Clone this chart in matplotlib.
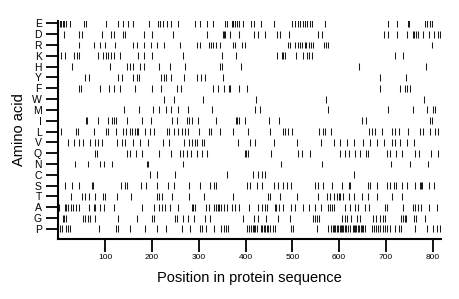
import matplotlib
matplotlib.use("Agg")
import matplotlib.pyplot as plt

# amino acids, top row first
amino_acids = ['E', 'D', 'R', 'K', 'H', 'Y', 'F', 'W', 'M', 'I',
               'L', 'V', 'Q', 'N', 'C', 'S', 'T', 'A', 'G', 'P']

seq_length = 817

# residue positions for each amino acid
pos_E = [3, 6, 9, 12, 16, 25, 55, 59, 102, 128, 139, 149, 159, 194, 213, 218, 224, 231, 240,
         256, 292, 303, 317, 331, 356, 361, 371, 374, 377, 382, 387, 394, 411, 418, 432, 461,
         500, 505, 511, 517, 522, 526, 531, 537, 542, 570, 705, 723, 748, 750, 784, 787, 795, 798]
pos_D = [11, 44, 51, 93, 113, 118, 137, 142, 182, 199, 244, 317, 352, 354, 357, 367, 387, 417,
         427, 442, 467, 474, 493, 554, 563, 695, 705, 724, 746, 757, 760, 764, 769, 780, 791,
         802, 812, 816]
pos_R = [44, 75, 89, 100, 121, 160, 167, 182, 197, 210, 225, 260, 296, 303, 321, 326, 331, 337,
         346, 373, 377, 392, 399, 490, 494, 505, 513, 517, 521, 526, 530, 535, 540, 544, 568,
         572, 577, 798]
pos_K = [5, 15, 34, 39, 44, 85, 96, 102, 107, 113, 118, 131, 171, 182, 199, 266, 350, 380, 467,
         477, 480, 485, 508, 522, 531, 535, 541, 720, 737]
pos_H = [29, 111, 146, 153, 160, 175, 182, 214, 239, 270, 345, 350, 390, 642, 786]
pos_Y = [57, 66, 128, 136, 160, 167, 172, 219, 225, 230, 240, 268, 297, 304, 314, 351, 687, 743]
pos_F = [45, 48, 89, 109, 118, 131, 164, 201, 219, 253, 263, 330, 342, 353, 364, 366, 387, 403,
         688, 729, 740, 745, 752]
pos_W = [226, 246, 310, 423, 572, 782]
pos_M = [140, 173, 203, 216, 229, 241, 256, 276, 328, 420, 431, 577, 704, 757, 787, 800, 805]
pos_I = [59, 62, 84, 105, 115, 119, 123, 147, 178, 198, 242, 253, 274, 280, 285, 298, 336, 379,
         382, 387, 399, 451, 471, 648, 658, 795, 799]
pos_L = [5, 38, 41, 76, 102, 107, 123, 139, 144, 152, 157, 164, 167, 171, 185, 196, 205, 232,
         237, 246, 255, 265, 271, 278, 301, 321, 326, 345, 374, 406, 452, 481, 485, 490, 500,
         558, 565, 570, 583, 663, 670, 677, 691, 712, 720, 728, 748, 773, 780, 795, 805, 812]
pos_V = [21, 34, 44, 53, 68, 79, 85, 93, 125, 136, 143, 160, 175, 191, 223, 237, 269, 280, 285,
         292, 297, 306, 311, 383, 409, 421, 460, 509, 561, 588, 602, 616, 631, 652, 665, 681,
         695, 712, 720, 730, 745, 759]
pos_Q = [78, 82, 146, 154, 166, 178, 216, 240, 260, 267, 274, 283, 296, 306, 318, 398, 401, 405,
         454, 511, 520, 537, 602, 613, 620, 634, 645, 657, 661, 702, 708, 722, 734, 763, 770,
         797, 812]
pos_N = [36, 64, 89, 97, 114, 189, 192, 266, 476, 563, 711, 752, 789]
pos_C = [195, 210, 249, 360, 415, 426, 435, 442, 632]
pos_S = [14, 30, 45, 71, 73, 133, 142, 146, 177, 187, 210, 235, 247, 280, 303, 323, 333, 337,
         403, 410, 424, 435, 460, 470, 480, 488, 497, 549, 554, 565, 584, 606, 620, 624, 661,
         667, 681, 702, 708, 718, 721, 734, 746, 763, 772, 775, 778, 791, 802]
pos_T = [27, 50, 57, 66, 78, 95, 100, 125, 155, 210, 216, 221, 242, 280, 311, 374, 449, 452,
         474, 509, 554, 574, 581, 588, 595, 599, 602, 609, 620, 632, 648, 661, 681, 714, 734]
pos_A = [2, 14, 17, 21, 26, 32, 38, 43, 66, 75, 79, 88, 97, 118, 178, 204, 214, 221, 228, 239,
         256, 285, 288, 292, 315, 321, 333, 337, 340, 344, 347, 354, 361, 371, 377, 387, 408,
         427, 435, 442, 446, 462, 466, 471, 481, 497, 505, 523, 535, 549, 561, 577, 581, 584,
         588, 613, 624, 634, 641, 656, 663, 699, 702, 737, 757, 763, 768, 775, 791, 809]
pos_G = [9, 12, 17, 53, 57, 64, 68, 78, 128, 169, 199, 204, 249, 254, 266, 278, 289, 313, 324,
         394, 417, 427, 443, 469, 494, 545, 549, 552, 558, 606, 613, 616, 626, 638, 645, 672,
         679, 687, 693, 699, 733, 736, 740, 743, 759, 765, 784]
pos_P = [3, 7, 16, 20, 25, 87, 124, 128, 154, 185, 210, 230, 264, 281, 303, 306, 315, 333, 347,
         353, 358, 362, 403, 408, 411, 415, 419, 421, 424, 434, 436, 439, 442, 445, 448, 453,
         458, 463, 497, 502, 552, 577, 583, 586, 589, 592, 595, 598, 601, 604, 606, 609, 612,
         615, 618, 624, 629, 632, 634, 637, 640, 643, 646, 649, 652, 656, 670, 675, 679, 684,
         688, 693, 699, 702, 709, 720, 727, 732, 763, 787, 800, 809, 816]

positions = [pos_E, pos_D, pos_R, pos_K, pos_H, pos_Y, pos_F, pos_W, pos_M, pos_I,
             pos_L, pos_V, pos_Q, pos_N, pos_C, pos_S, pos_T, pos_A, pos_G, pos_P]

fig = plt.figure(figsize=(4.6, 2.99), dpi=100)
ax = fig.add_axes([0.127, 0.202, 0.831, 0.729])

n = len(amino_acids)
for i, (aa, pos) in enumerate(zip(amino_acids, positions)):
    row = n - 1 - i
    ax.vlines(pos, row - 0.32, row + 0.32, color='#1a1a1a', linewidth=0.75)

ax.set_xlim(0, seq_length)
ax.set_ylim(-0.9, n - 1 + 0.25)

ax.set_yticks(range(n))
ax.set_yticklabels(amino_acids[::-1], fontsize=7.5, fontfamily='Liberation Sans')
ax.set_xticks([100, 200, 300, 400, 500, 600, 700, 800])
ax.tick_params(axis='x', length=9, width=1.3, labelsize=6, pad=2)
ax.tick_params(axis='y', length=9, width=1.3, pad=3)
for lbl in ax.get_xticklabels():
    lbl.set_fontfamily('Liberation Sans')

ax.spines['top'].set_visible(False)
ax.spines['right'].set_visible(False)
ax.spines['left'].set_linewidth(1.5)
ax.spines['bottom'].set_linewidth(1.5)

ax.set_xlabel('Position in protein sequence', fontsize=10.5, fontfamily='Liberation Sans', labelpad=7)
ax.set_ylabel('Amino acid', fontsize=10.5, fontfamily='Liberation Sans', labelpad=4)

fig.savefig('out.png', dpi=100)
